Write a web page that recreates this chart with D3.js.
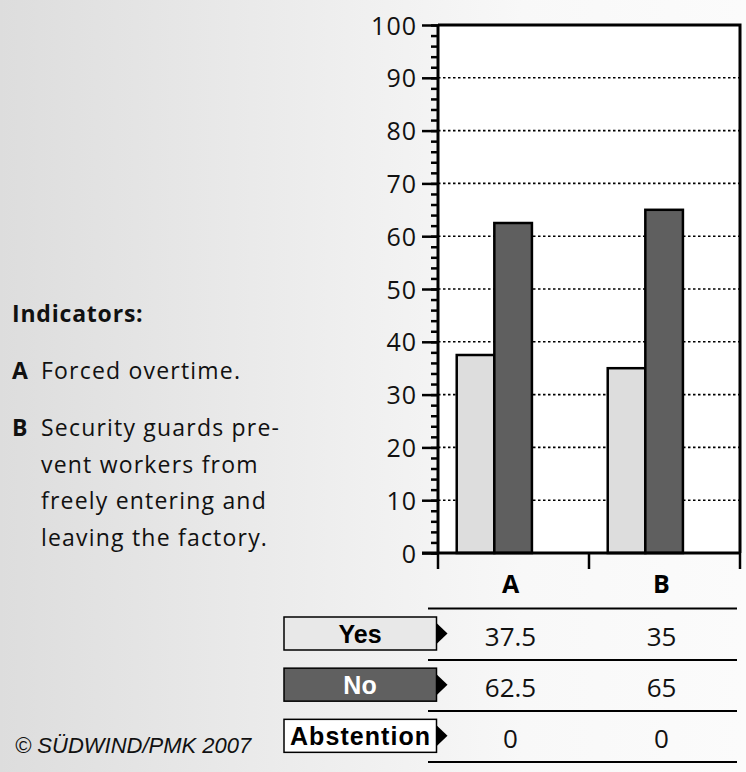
<!DOCTYPE html>
<html>
<head>
<meta charset="utf-8">
<script src="https://cdn.jsdelivr.net/npm/d3@7"></script>
<style>
  body { margin: 0; padding: 0; }
  svg { display: block; }
</style>
</head>
<body>
<div id="chart"></div>
<script>
// data
var categories = ["A", "B"];
var seriesNames = ["Yes", "No", "Abstention"];
var yesValues = [37.5, 35];
var noValues = [62.5, 65];
var abstValues = [0, 0];
var yTicks = [0, 10, 20, 30, 40, 50, 60, 70, 80, 90, 100];
var indicatorLines = [
  { key: "A", lines: ["Forced overtime."] },
  { key: "B", lines: ["Security guards pre-", "vent workers from", "freely entering and", "leaving the factory."] }
];

var W = 746, H = 772;
var svg = d3.select("#chart").append("svg")
  .attr("width", W).attr("height", H);

// background gradient
var grad = svg.append("defs").append("linearGradient")
  .attr("id", "bg").attr("x1", "0%").attr("x2", "100%");
grad.append("stop").attr("offset", "0%").attr("stop-color", "#dddddd");
grad.append("stop").attr("offset", "70%").attr("stop-color", "#f8f8f8");
grad.append("stop").attr("offset", "100%").attr("stop-color", "#fbfbfb");
svg.append("rect").attr("width", W).attr("height", H).attr("fill", "url(#bg)");

var plotL = 438, plotR = 740, plotT = 25, plotB = 553;

var x = d3.scaleBand().domain(categories).range([plotL, plotR]);
var bw = x.bandwidth();
var x1 = d3.scaleBand().domain(["Yes", "No"]).range([0.124 * bw, 0.622 * bw]);
var y = d3.scaleLinear().domain([0, 100]).range([plotB, plotT]);

// plot area
svg.append("rect").attr("x", plotL).attr("y", plotT)
  .attr("width", plotR - plotL).attr("height", plotB - plotT)
  .attr("fill", "#fff");

// dotted grid
svg.append("g").selectAll("line").data(yTicks.filter(function(d) { return d > 0 && d < 100; }))
  .enter().append("line")
  .attr("x1", plotL).attr("x2", plotR)
  .attr("y1", function(d) { return y(d); }).attr("y2", function(d) { return y(d); })
  .attr("stroke", "#000").attr("stroke-width", 1.6)
  .attr("stroke-dasharray", "2.5,2.5");

// bars
var barData = [];
categories.forEach(function(c, i) {
  barData.push({ cat: c, s: "Yes", v: yesValues[i] });
  barData.push({ cat: c, s: "No", v: noValues[i] });
});
var fills = { Yes: "#dddddd", No: "#5f5f5f" };
svg.append("g").selectAll("rect").data(barData).enter().append("rect")
  .attr("x", function(d) { return x(d.cat) + x1(d.s); })
  .attr("y", function(d) { return y(d.v); })
  .attr("width", x1.bandwidth())
  .attr("height", function(d) { return y(0) - y(d.v); })
  .attr("fill", function(d) { return fills[d.s]; })
  .attr("stroke", "#000").attr("stroke-width", 2.5);

// frame top/right
svg.append("path")
  .attr("d", "M" + plotL + "," + plotT + "H" + plotR + "V" + plotB)
  .attr("fill", "none").attr("stroke", "#000").attr("stroke-width", 3);

// y axis minor ticks
var minor = svg.append("g").attr("transform", "translate(" + plotL + ",0)")
  .call(d3.axisLeft(y).tickValues(d3.range(0, 101, 2)).tickSize(7).tickFormat(""));
minor.select(".domain").remove();
minor.selectAll("line").attr("stroke-width", 2.5);

// y axis major ticks
var yAxis = svg.append("g").attr("transform", "translate(" + plotL + ",0)")
  .call(d3.axisLeft(y).tickValues(yTicks).tickSize(16).tickPadding(5));
yAxis.select(".domain").attr("stroke-width", 3).attr("d", "M0," + plotT + "V" + plotB);
yAxis.selectAll("line").attr("stroke-width", 2.5);
yAxis.selectAll("text")
  .attr("font-family", "'Open Sans', sans-serif")
  .attr("font-size", 25).attr("letter-spacing", 1).attr("fill", "#111").attr("dy", "0.36em");

// x axis baseline + separators
svg.append("line").attr("x1", plotL - 16).attr("x2", plotR)
  .attr("y1", plotB).attr("y2", plotB)
  .attr("stroke", "#000").attr("stroke-width", 3);
var seps = categories.map(function(c) { return x(c); }).concat([plotR]);
svg.append("g").selectAll("line").data(seps).enter().append("line")
  .attr("x1", function(d) { return d; }).attr("x2", function(d) { return d; })
  .attr("y1", plotB).attr("y2", plotB + 16)
  .attr("stroke", "#000").attr("stroke-width", 2.5);

// category labels
svg.append("g").selectAll("text").data(categories).enter().append("text")
  .attr("x", function(d) { return x(d) + bw / 2 - 3; })
  .attr("y", 593)
  .attr("text-anchor", "middle")
  .attr("font-family", "'Open Sans', sans-serif")
  .attr("font-weight", "bold").attr("font-size", 25)
  .text(function(d) { return d; });

// table
var rowLines = [608.5, 660, 711, 762];
svg.append("g").selectAll("line").data(rowLines).enter().append("line")
  .attr("x1", 428).attr("x2", 737)
  .attr("y1", function(d) { return d; }).attr("y2", function(d) { return d; })
  .attr("stroke", "#000").attr("stroke-width", 1.8);

var rows = [
  { name: "Yes", vals: yesValues, fill: "#e8e8e8", color: "#000" },
  { name: "No", vals: noValues, fill: "#606060", color: "#fff" },
  { name: "Abstention", vals: abstValues, fill: "#fff", color: "#000" }
];
var rowY = d3.scaleBand().domain(seriesNames).range([608.5, 762]);
var rg = svg.append("g").selectAll("g").data(rows).enter().append("g")
  .attr("transform", function(d) { return "translate(0," + rowY(d.name) + ")"; });
rg.append("rect")
  .attr("x", 284).attr("y", 8.5).attr("width", 152.5).attr("height", 33)
  .attr("fill", function(d) { return d.fill; })
  .attr("stroke", "#000").attr("stroke-width", 1.5);
rg.append("path")
  .attr("d", "M436.5,14.5L447.5,25L436.5,35.5Z")
  .attr("fill", "#000");
rg.append("text")
  .attr("x", 360).attr("y", 34)
  .attr("text-anchor", "middle")
  .attr("font-family", "'Liberation Sans', Arial, sans-serif")
  .attr("font-weight", "bold").attr("font-size", 25)
  .attr("fill", function(d) { return d.color; })
  .attr("textLength", function(d) { return d.name === "Abstention" ? 140 : null; })
  .attr("lengthAdjust", "spacing")
  .text(function(d) { return d.name; });
rg.selectAll(".val").data(function(d) { return d.vals; }).enter().append("text")
  .attr("class", "val")
  .attr("x", function(d, i) { return x(categories[i]) + bw / 2 - 3; })
  .attr("y", 37)
  .attr("text-anchor", "middle")
  .attr("font-family", "'Open Sans', sans-serif")
  .attr("font-size", 26).attr("fill", "#111")
  .text(function(d) { return d; });

// indicators text
var txt = svg.append("g").attr("font-family", "'Open Sans', sans-serif").attr("fill", "#111");
txt.append("text").attr("x", 12).attr("y", 322)
  .attr("font-weight", "bold").attr("font-size", 23).attr("letter-spacing", 0.8)
  .text("Indicators:");
var lineY = 379;
indicatorLines.forEach(function(ind, k) {
  txt.append("text").attr("x", 12).attr("y", lineY)
    .attr("font-weight", "bold").attr("font-size", 23).text(ind.key);
  ind.lines.forEach(function(l, j) {
    txt.append("text").attr("x", 41).attr("y", lineY + j * 36.5)
      .attr("font-size", 23).attr("letter-spacing", 1.2).text(l);
  });
  lineY += 57;
});

// copyright
svg.append("text").attr("x", 15).attr("y", 753)
  .attr("font-family", "'Liberation Sans', Arial, sans-serif")
  .attr("font-style", "italic").attr("font-size", 22).attr("fill", "#111")
  .text("© SÜDWIND/PMK 2007");
</script>
</body>
</html>
